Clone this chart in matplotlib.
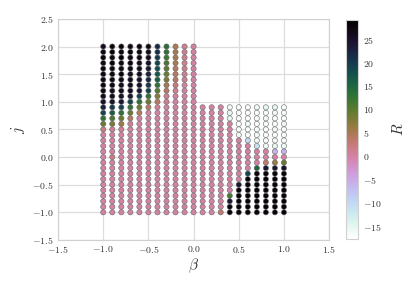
import numpy as np
import matplotlib
matplotlib.use('Agg')
from matplotlib import pyplot as plt

plt.rcParams['font.family'] = 'serif'
plt.rcParams['font.serif'] = ['cmr10', 'DejaVu Serif']
plt.rcParams['mathtext.fontset'] = 'cm'
plt.rcParams['axes.formatter.use_mathtext'] = True

# left block: beta <= 0, j from 2.0 down to -1.0
beta_left = [-1.0, -0.9, -0.8, -0.7, -0.6, -0.5, -0.4, -0.3, -0.2, -0.1, 0.0]
j_left = [2.0, 1.9, 1.8, 1.7, 1.6, 1.5, 1.4, 1.3, 1.2, 1.1, 1.0, 0.9, 0.8, 0.7,
          0.6, 0.5, 0.4, 0.3, 0.2, 0.1, 0.0, -0.1, -0.2, -0.3, -0.4, -0.5,
          -0.6, -0.7, -0.8, -0.9, -1.0]
R_left = [
    [26, 28, 28, 27, 28, 27, 22, 14, 5, 1, 0],
    [27, 28, 27, 28, 27, 26, 21, 13, 5, 1, 0],
    [28, 27, 29.1, 27, 27, 26, 20, 12, 5, 1, 0],
    [27, 28, 27, 28, 26, 25, 19, 11, 5, 1, 0],
    [28, 27, 27, 27, 26, 24, 18, 10, 4, 1, 0],
    [27, 27, 28, 26, 26, 23, 17, 9, 4, 1, 0],
    [27, 27, 27, 26, 25, 22, 16, 8, 4, 1, 0],
    [27, 27, 26, 26, 25, 20, 13, 5, 2, 0, 0],
    [27, 26, 26, 26, 24, 19, 10, 4, 1, 0, 0],
    [26, 26, 25, 24, 19, 13, 7, 1, 0, 0, 0],
    [25, 25, 24, 19, 13, 9, 4, 1, 0, 0, 0],
    [23, 20, 19, 13, 9, 4, 1, 0, 0, 0, 0],
    [19, 16, 13, 9, 4, 0, 0, 0, 0, 0, 0],
    [13, 11, 9, 4, 0, 0, 0, 0, 0, 0, 0],
    [9, 8, 6, 1, 0, 0, 0, 0, 0, 0, 0],
    [2, 1, 1, 0, 0, 0, 0, 0, 0, 0, 0],
    [0, 0, 0, 0, 0, 0, 0, 0, 0, 0, 0],
    [0, 0, 0, 0, 0, 0, 0, 0, 0, 0, 0],
    [0, 0, 0, 0, 0, 0, 0, 0, 0, 0, 0],
    [0, 0, 0, 0, 0, 0, 0, 0, 0, 0, 0],
    [0, 2, 0, 0, 0, 0, 0, 0, 0, 0, 0],
    [0, 0, 0, 0, 0, 0, 0, 0, 0, 0, 0],
    [0, 0, 0, 0, 0, 0, 0, 0, 0, 0, 0],
    [0, 0, 0, 0, 0, 0, 0, 0, 0, 0, 0],
    [0, 0, 0, 0, 0, 0, 0, 0, 0, 0, 0],
    [0, 0, 0, 0, 0, 0, 0, 0, 0, 0, 0],
    [0, 0, 0, 0, 0, 0, 0, 0, 0, 0, 0],
    [0, 0, 0, 0, 0, 0, 0, 0, 0, 0, 0],
    [0, 0, 0, 0, 0, 0, 0, 0, 0, 0, 0],
    [0, 0, 0, 0, 0, 0, 0, 0, 0, 0, 0],
    [0, 0, 0, 0, 0, 0, 0, 0, 0, 0, 0],
]

# right block: beta > 0, j from 0.9 down to -1.0
beta_right = [0.1, 0.2, 0.3, 0.4, 0.5, 0.6, 0.7, 0.8, 0.9, 1.0]
j_right = [0.9, 0.8, 0.7, 0.6, 0.5, 0.4, 0.3, 0.2, 0.1, 0.0, -0.1, -0.2,
           -0.3, -0.4, -0.5, -0.6, -0.7, -0.8, -0.9, -1.0]
R_right = [
    [0, 0, 0, -16, -17, -17, -16, -15, -15, -17],
    [0, 0, 0, -15, -17, -17.8, -17, -17, -16, -17],
    [0, 0, 0, -15, -17, -17, -17, -16, -17, -17],
    [0, 0, 0, 0, -17, -16, -17, -17, -17, -16],
    [0, 0, 0, 0, -17, -17, -17, -17, -16, -17],
    [0, 0, 0, 0, -16, -17, -16, -17, -17, -17],
    [0, 0, 0, 0, 0, -10, -16, -17, -16, -17],
    [0, 0, 0, 0, 0, 0, -11, -16, -15, -16],
    [0, 0, 0, 0, 0, 0, 0, 0, -6, -6],
    [0, 0, 0, 0, 0, 0, 0, 0, 0, 0],
    [0, 0, 0, 0, 0, 0, 0, 3, 6, 9],
    [0, 0, 0, 0, 0, 0, 15, 24, 24, 25],
    [0, 0, 0, 0, 0, 19, 28, 28, 28, 28],
    [0, 0, 0, 0, 0, 28, 28, 28, 28, 28],
    [0, 0, 0, 0, 24, 28, 28, 28, 28, 28],
    [0, 0, 0, 0, 28, 28, 28, 28, 28, 28],
    [0, 0, 0, 11, 28, 28, 28, 28, 28, 28],
    [0, 0, 0, 24, 28, 28, 28, 28, 28, 28],
    [0, 0, 0, 28, 28, 28, 28, 28, 28, 28],
    [0, 0, 3, 28, 28, 28, 28, 28, 28, 28],
]

bl, jl = np.meshgrid(beta_left, j_left)
br, jr = np.meshgrid(beta_right, j_right)
beta = np.concatenate([bl.ravel(), br.ravel()])
jj = np.concatenate([jl.ravel(), jr.ravel()])
R = np.concatenate([np.ravel(R_left), np.ravel(R_right)])

fig = plt.figure(figsize=(4.15, 2.86), dpi=100)
ax = fig.add_axes([0.14, 0.161, 0.653, 0.773])
cax = fig.add_axes([0.834, 0.164, 0.028, 0.766])

ax.set_axisbelow(True)
ax.grid(True, color='#dddddd', linewidth=0.9)
sc = ax.scatter(beta, jj, c=R, cmap='cubehelix_r', s=14,
                edgecolors='0.4', linewidths=0.4, zorder=3)

ax.set_xlim(-1.5, 1.5)
ax.set_ylim(-1.5, 2.5)
xt = [-1.5, -1.0, -0.5, 0.0, 0.5, 1.0, 1.5]
yt = [-1.5, -1.0, -0.5, 0.0, 0.5, 1.0, 1.5, 2.0, 2.5]
ax.set_xticks(xt)
ax.set_yticks(yt)
ax.set_xticklabels(['$%.1f$' % v for v in xt])
ax.set_yticklabels(['$%.1f$' % v for v in yt])
ax.tick_params(length=0, labelsize=7, pad=3, labelcolor='#333333')
for sp in ax.spines.values():
    sp.set_color('#d0d0d0')
ax.set_xlabel(r'$\beta$', fontsize=11, labelpad=1, color='#333333')
ax.set_ylabel(r'$j$', fontsize=11, labelpad=4, color='#333333')

cb = fig.colorbar(sc, cax=cax)
ct = [-15, -10, -5, 0, 5, 10, 15, 20, 25]
cb.set_ticks(ct)
cb.set_ticklabels(['$%d$' % v for v in ct])
cb.ax.tick_params(length=0, labelsize=7, pad=4, labelcolor='#333333')
cb.outline.set_edgecolor('#d0d0d0')
cb.set_label('$R$', fontsize=11, labelpad=6, color='#333333')

fig.savefig('out.png', dpi=100)
